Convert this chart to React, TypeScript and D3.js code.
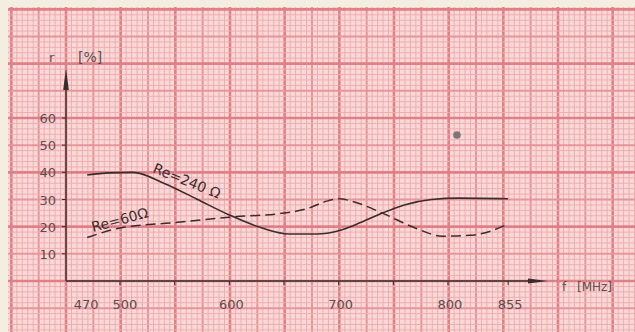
import React from "react";
import * as d3 from "d3";

const W = 635;
const H = 332;

// tick labels
const xTickLabels = [470, 500, 600, 700, 800, 855];
const xTickMarks = [500, 550, 600, 650, 700, 750, 800, 855];
const yTickLabels = [10, 20, 30, 40, 50, 60];

// series: Re = 240 Ω (solid)
const re240Freq = [470, 490, 512, 540, 570, 600, 630, 655, 680, 700, 720, 740, 760, 785, 810, 855];
const re240Val = [39, 39.8, 40, 36, 30.2, 24.3, 19.5, 17.3, 17.3, 18.5, 21.5, 25, 28, 30, 30.5, 30.3];

// series: Re = 60 Ω (dashed)
const re60Freq = [470, 500, 550, 600, 650, 670, 690, 700, 715, 740, 770, 795, 820, 840, 855];
const re60Val = [16, 19.5, 21.5, 23.5, 25, 26.5, 29.5, 30.3, 29, 25, 19.5, 16.5, 16.8, 18.5, 21];

export default function App() {
  const x = d3.scaleLinear().domain([500, 800]).range([120, 448]);
  const y = d3.scaleLinear().domain([0, 60]).range([281, 118]);

  const x0 = 66; // y axis position
  const y0 = y(0);
  const xEnd = 548;
  const yTop = 68;

  const line = d3
    .line<[number, number]>()
    .x((d) => x(d[0]))
    .y((d) => y(d[1]))
    .curve(d3.curveMonotoneX);

  const s240 = re240Freq.map((f, i) => [f, re240Val[i]] as [number, number]);
  const s60 = re60Freq.map((f, i) => [f, re60Val[i]] as [number, number]);

  // graph paper grid
  const stepX = (x(550) - x(500)) / 10;
  const stepY = (y(0) - y(10)) / 5;
  const vLines = d3.range(-12, 120).map((k) => ({ pos: x0 + k * stepX, k }));
  const hLines = d3.range(-60, 60).map((k) => ({ pos: y0 - k * stepY, k }));
  const paperX = 8;
  const paperY = 7;

  const textColor = "#5e4c4c";
  const ink = "#3b2c2c";
  const font = "DejaVu Sans, sans-serif";

  const gridStyle = (k: number) => {
    const major = ((k % 10) + 10) % 10 === 0;
    const mid = ((k % 5) + 5) % 5 === 0;
    return {
      stroke: major ? "#e07f86" : mid ? "#e8959a" : "#f0adb0",
      strokeWidth: major ? 2.6 : mid ? 2.0 : 1.0,
    };
  };

  return (
    <svg width={W} height={H} style={{ position: "absolute", left: 0, top: 0 }}>
      <rect x={0} y={0} width={W} height={H} fill="#f3eee0" />
      <defs>
        <clipPath id="paper">
          <rect x={paperX} y={paperY} width={W - paperX} height={H - paperY} />
        </clipPath>
        <filter id="soft" x="0" y="0" width="1" height="1">
          <feGaussianBlur stdDeviation="0.7" />
        </filter>
      </defs>
      <g clipPath="url(#paper)">
        <rect x={paperX} y={paperY} width={W - paperX} height={H - paperY} fill="#f9d9d8" />
        <g filter="url(#soft)">
          {vLines.map(({ pos, k }) => (
            <line key={"v" + k} x1={pos} x2={pos} y1={0} y2={H} {...gridStyle(k)} />
          ))}
          {hLines.map(({ pos, k }) => (
            <line key={"h" + k} x1={0} x2={W} y1={pos} y2={pos} {...gridStyle(k)} />
          ))}
        </g>
      </g>

      {/* axes */}
      <line x1={x0} x2={x0} y1={y0} y2={yTop + 10} stroke={ink} strokeWidth={1.4} />
      <path d={`M${x0},${yTop} L${x0 - 2.8},${yTop + 22} L${x0 + 2.8},${yTop + 22} Z`} fill={ink} />
      <line x1={x0} x2={xEnd - 10} y1={y0} y2={y0} stroke={ink} strokeWidth={1.4} />
      <path d={`M${xEnd},${y0} L${xEnd - 20},${y0 - 2.6} L${xEnd - 20},${y0 + 2.6} Z`} fill={ink} />

      {/* y ticks */}
      {yTickLabels.map((v) => (
        <g key={"yt" + v}>
          <line x1={x0 - 4} x2={x0} y1={y(v)} y2={y(v)} stroke={ink} strokeWidth={1} />
          <text
            x={56}
            y={y(v) + 5}
            textAnchor="end"
            fontFamily={font}
            fontSize={13}
            fill={textColor}
          >
            {v}
          </text>
        </g>
      ))}

      {/* x ticks */}
      {xTickMarks.map((v) => (
        <line key={"xm" + v} x1={x(v)} x2={x(v)} y1={y0} y2={y0 + 4} stroke={ink} strokeWidth={1} />
      ))}
      {xTickLabels.map((v) => (
        <text
          key={"xl" + v}
          x={x(v) + (v === 500 ? 5 : v === 470 ? -1 : 2)}
          y={309}
          textAnchor="middle"
          fontFamily={font}
          fontSize={13}
          fill={textColor}
        >
          {v}
        </text>
      ))}

      {/* axis titles */}
      <text x={49} y={62} fontFamily={font} fontSize={13} fill={textColor}>
        r
      </text>
      <text x={78} y={62} fontFamily={font} fontSize={14} fill={textColor}>
        [%]
      </text>
      <text x={562} y={291} fontFamily={font} fontSize={12} fill={textColor}>
        f
      </text>
      <text x={577} y={291} fontFamily={font} fontSize={12} fill={textColor}>
        [MHz]
      </text>

      {/* curves */}
      <path d={line(s240) || ""} fill="none" stroke={ink} strokeWidth={1.6} />
      <path d={line(s60) || ""} fill="none" stroke={ink} strokeWidth={1.5} strokeDasharray="10,5" />

      {/* curve labels */}
      <text
        transform="translate(152,172) rotate(22)"
        fontFamily={font}
        fontSize={14}
        fill={ink}
      >
        Re=240 Ω
      </text>
      <text
        transform="translate(93,232) rotate(-15)"
        fontFamily={font}
        fontSize={14}
        fill={ink}
      >
        Re=60Ω
      </text>

      {/* dot */}
      <circle cx={457} cy={135} r={3.8} fill="#7d7676" />
    </svg>
  );
}
